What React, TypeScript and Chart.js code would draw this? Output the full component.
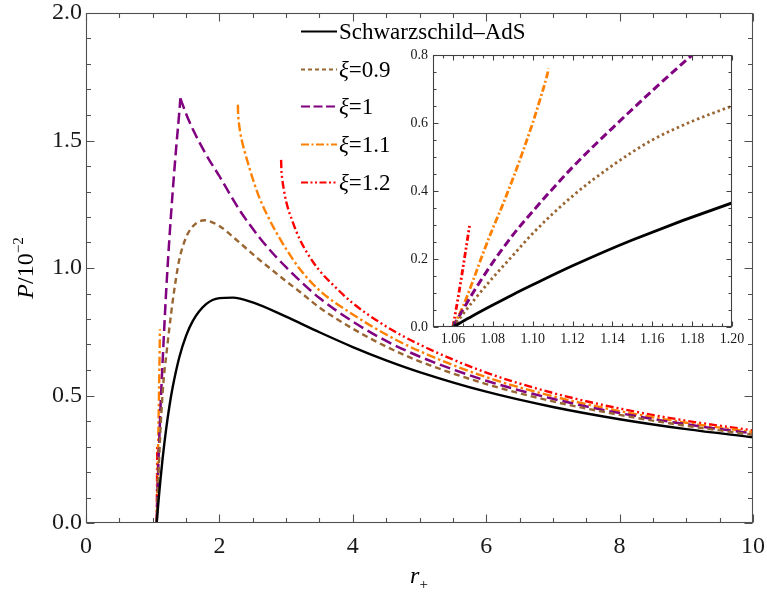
import React, { useEffect, useRef } from "react";
import { Chart, registerables } from "chart.js";

Chart.register(...registerables);

const SERIF = '"Liberation Serif", "Times New Roman", Times, serif';

// ---------- tick labels ----------
const mainXTicks = [0, 2, 4, 6, 8, 10];
const mainYTicks = [0, 0.5, 1.0, 1.5, 2.0];
const insetXTicks = [1.06, 1.08, 1.1, 1.12, 1.14, 1.16, 1.18, 1.2];
const insetYTicks = [0, 0.2, 0.4, 0.6, 0.8];

// ---------- legend ----------
const legendFirst = "Schwarzschild–AdS";
const xiValues = ["0.9", "1", "1.1", "1.2"];

// ---------- data (r_+, P / 10^-2) ----------
const rSAdS = [1.06, 1.07, 1.08, 1.09, 1.1, 1.12, 1.15, 1.2, 1.25, 1.3, 1.4, 1.5, 1.6, 1.8, 2.0, 2.2, 2.5, 3.0, 3.5, 4.0, 4.5, 5.0, 6.0, 7.0, 8.0, 9.0, 10.0];
const pSAdS = [0, 0.033, 0.0645, 0.095, 0.124, 0.18, 0.256, 0.365, 0.457, 0.533, 0.651, 0.734, 0.792, 0.858, 0.882, 0.884, 0.865, 0.809, 0.748, 0.69, 0.638, 0.592, 0.515, 0.455, 0.407, 0.368, 0.336];

const rXi09 = [1.06, 1.07, 1.08, 1.09, 1.1, 1.12, 1.14, 1.16, 1.18, 1.2, 1.25, 1.3, 1.35, 1.4, 1.5, 1.6, 1.7, 1.78, 1.9, 2.0, 2.3, 2.6, 2.8, 3.0, 3.2, 3.5, 4.0, 4.5, 5.0, 6.0, 7.0, 8.0, 9.0, 10.0];
const pXi09 = [0, 0.075, 0.145, 0.21, 0.275, 0.385, 0.475, 0.55, 0.605, 0.65, 0.765, 0.87, 0.96, 1.035, 1.12, 1.163, 1.183, 1.187, 1.178, 1.165, 1.1, 1.032, 0.99, 0.948, 0.908, 0.845, 0.762, 0.692, 0.634, 0.545, 0.477, 0.424, 0.381, 0.346];

const rXi10Low = [1.06, 1.07, 1.08, 1.09, 1.1, 1.12, 1.14, 1.16, 1.18, 1.2, 1.25, 1.3, 1.35, 1.4, 1.415];
const pXi10Low = [0, 0.1, 0.19, 0.27, 0.34, 0.47, 0.585, 0.695, 0.8, 0.9, 1.115, 1.3, 1.465, 1.615, 1.665];
const rXi10High = [1.415, 1.5, 1.6, 1.8, 2.0, 2.3, 2.6, 2.8, 3.0, 3.2, 3.5, 4.0, 4.5, 5.0, 6.0, 7.0, 8.0, 9.0, 10.0];
const pXi10High = [1.665, 1.605, 1.545, 1.445, 1.36, 1.228, 1.12, 1.058, 1.003, 0.952, 0.882, 0.79, 0.714, 0.653, 0.558, 0.487, 0.431, 0.387, 0.351];

const rXi11Low = [1.06, 1.065, 1.07, 1.075, 1.08, 1.085, 1.09, 1.095, 1.1, 1.104, 1.107, 1.108];
const pXi11Low = [0, 0.06, 0.135, 0.215, 0.29, 0.36, 0.435, 0.515, 0.6, 0.675, 0.735, 0.76];
const rXi11High = [2.277, 2.28, 2.29, 2.31, 2.35, 2.4, 2.5, 2.6, 2.75, 2.9, 3.0, 3.2, 3.5, 4.0, 4.5, 5.0, 6.0, 7.0, 8.0, 9.0, 10.0];
const pXi11High = [1.64, 1.61, 1.575, 1.535, 1.485, 1.437, 1.35, 1.275, 1.19, 1.118, 1.075, 0.998, 0.912, 0.818, 0.739, 0.674, 0.572, 0.497, 0.439, 0.393, 0.356];

const rXi12Low = [1.06, 1.063, 1.066, 1.0684];
const pXi12Low = [0, 0.1, 0.21, 0.3];
const rXi12High = [2.925, 2.93, 2.94, 2.96, 3.0, 3.1, 3.2, 3.35, 3.5, 3.7, 4.0, 4.5, 5.0, 6.0, 7.0, 8.0, 9.0, 10.0];
const pXi12High = [1.424, 1.384, 1.354, 1.317, 1.262, 1.18, 1.115, 1.045, 0.99, 0.935, 0.862, 0.771, 0.7, 0.59, 0.51, 0.449, 0.401, 0.363];

type Part = [number[], number[]];
interface Series {
  color: string;
  mainWidth: number;
  insetWidth: number;
  mainDash: number[];
  insetDash: number[];
  legendDash: number[];
  parts: Part[];
}

const series: Series[] = [
  { color: "#000000", mainWidth: 2.4, insetWidth: 2.8, mainDash: [], insetDash: [], legendDash: [], parts: [[rSAdS, pSAdS]] },
  { color: "#996633", mainWidth: 2.4, insetWidth: 2.8, mainDash: [6, 4], insetDash: [2.5, 3], legendDash: [4, 3], parts: [[rXi09, pXi09]] },
  { color: "#800080", mainWidth: 2.5, insetWidth: 3, mainDash: [11, 5], insetDash: [8, 4], legendDash: [9, 3.5], parts: [[rXi10Low, pXi10Low], [rXi10High, pXi10High]] },
  { color: "#ff8000", mainWidth: 2.4, insetWidth: 2.8, mainDash: [9, 3, 2.5, 3], insetDash: [7, 2.5, 2, 2.5], legendDash: [8, 2.5, 2, 2.5], parts: [[rXi11Low, pXi11Low], [rXi11High, pXi11High]] },
  { color: "#ff0000", mainWidth: 2.4, insetWidth: 2.8, mainDash: [8, 3, 2, 3, 2, 3], insetDash: [6, 2.5, 2, 2.5, 2, 2.5], legendDash: [7, 2.5, 2, 2.5, 2, 2.5], parts: [[rXi12Low, pXi12Low], [rXi12High, pXi12High]] },
];

function buildDatasets(inset: boolean) {
  const out: any[] = [];
  series.forEach((s) => {
    s.parts.forEach(([xs, ys]) => {
      out.push({
        data: xs.map((x, i) => ({ x, y: ys[i] })),
        borderColor: s.color,
        backgroundColor: s.color,
        borderWidth: inset ? s.insetWidth : s.mainWidth,
        borderDash: inset ? s.insetDash : s.mainDash,
        pointRadius: 0,
        fill: false,
        cubicInterpolationMode: "monotone",
        borderCapStyle: "butt",
      });
    });
  });
  return out;
}

function drawFrameTicks(
  chart: any,
  xMinStep: number,
  yMinStep: number,
  xMajors: number[],
  yMajors: number[],
  majorLen: number,
  minorLen: number,
  color: string
) {
  const { ctx, chartArea: a, scales } = chart;
  const xs = scales.x;
  const ys = scales.y;
  const L = Math.round(a.left) + 0.5;
  const R = Math.round(a.right) - 0.5;
  const T = Math.round(a.top) + 0.5;
  const B = Math.round(a.bottom) - 0.5;
  ctx.save();
  ctx.strokeStyle = color;
  ctx.lineWidth = 1.1;
  ctx.setLineDash([]);
  ctx.strokeRect(L, T, R - L, B - T);
  ctx.beginPath();
  const nx = Math.round((xs.max - xs.min) / xMinStep);
  for (let i = 0; i <= nx; i++) {
    const v = xs.min + i * xMinStep;
    const major = xMajors.some((m) => Math.abs(m - v) < 1e-7);
    const len = major ? majorLen : minorLen;
    const px = Math.round(xs.getPixelForValue(v)) + 0.5;
    ctx.moveTo(px, B);
    ctx.lineTo(px, B - len);
    ctx.moveTo(px, T);
    ctx.lineTo(px, T + len);
  }
  const ny = Math.round((ys.max - ys.min) / yMinStep);
  for (let i = 0; i <= ny; i++) {
    const v = ys.min + i * yMinStep;
    const major = yMajors.some((m) => Math.abs(m - v) < 1e-7);
    const len = major ? majorLen : minorLen;
    const py = Math.round(ys.getPixelForValue(v)) + 0.5;
    ctx.moveTo(L, py);
    ctx.lineTo(L + len, py);
    ctx.moveTo(R, py);
    ctx.lineTo(R - len, py);
  }
  ctx.stroke();
  ctx.restore();
}

type Piece = { t: string; font: string; dy?: number };
function drawPieces(ctx: CanvasRenderingContext2D, pieces: Piece[], x: number, baseline: number, center: boolean) {
  let total = 0;
  const widths = pieces.map((p) => {
    ctx.font = p.font;
    const w = ctx.measureText(p.t).width;
    total += w;
    return w;
  });
  let cx = center ? x - total / 2 : x;
  ctx.textAlign = "left";
  ctx.textBaseline = "alphabetic";
  pieces.forEach((p, i) => {
    ctx.font = p.font;
    ctx.fillText(p.t, cx, baseline + (p.dy || 0));
    cx += widths[i];
  });
}

const mainPlugin = {
  id: "mainDecor",
  afterDatasetsDraw(chart: any) {
    drawFrameTicks(chart, 0.5, 0.1, mainXTicks, mainYTicks, 8, 4.5, "#505050");
    const ctx: CanvasRenderingContext2D = chart.ctx;
    ctx.save();
    ctx.fillStyle = "#000";
    // legend
    const rowY = [31, 69, 106, 144, 182];
    series.forEach((s, i) => {
      const y = rowY[i] + 0.5;
      ctx.strokeStyle = s.color;
      ctx.lineWidth = 2.2;
      ctx.setLineDash(s.legendDash);
      ctx.beginPath();
      ctx.moveTo(301, y);
      ctx.lineTo(337, y);
      ctx.stroke();
      ctx.setLineDash([]);
      ctx.fillStyle = "#000";
      if (i === 0) {
        drawPieces(ctx, [{ t: legendFirst, font: `23px ${SERIF}` }], 339, rowY[i] + 8, false);
      } else {
        drawPieces(
          ctx,
          [
            { t: "ξ", font: `italic 23px ${SERIF}` },
            { t: "=" + xiValues[i - 1], font: `23px ${SERIF}` },
          ],
          339,
          rowY[i] + 8,
          false
        );
      }
    });
    // y title
    ctx.save();
    ctx.translate(25, 268);
    ctx.rotate(-Math.PI / 2);
    drawPieces(
      ctx,
      [
        { t: "P", font: `italic 24px ${SERIF}` },
        { t: "/10", font: `24px ${SERIF}` },
        { t: "−2", font: `15px ${SERIF}`, dy: -10 },
      ],
      0,
      8,
      true
    );
    ctx.restore();
    // x title
    drawPieces(
      ctx,
      [
        { t: "r", font: `italic 24px ${SERIF}` },
        { t: "+", font: `15px ${SERIF}`, dy: 6 },
      ],
      419,
      583,
      true
    );
    ctx.restore();
  },
};

const insetPlugin = {
  id: "insetDecor",
  beforeDraw(chart: any) {
    const { ctx, chartArea: a } = chart;
    ctx.save();
    ctx.fillStyle = "#ffffff";
    ctx.fillRect(a.left, a.top, a.right - a.left, a.bottom - a.top);
    ctx.restore();
  },
  afterDatasetsDraw(chart: any) {
    drawFrameTicks(chart, 0.005, 0.05, insetXTicks, insetYTicks, 5, 3, "#404040");
  },
};

function makeScale(min: number, max: number, ticks: number[], fmt: (v: number) => string, size: number, pad: number, fit: (s: any) => void) {
  return {
    type: "linear",
    min,
    max,
    afterBuildTicks: (s: any) => {
      s.ticks = ticks.map((value) => ({ value }));
    },
    afterFit: (s: any) => {
      fit(s);
      s.paddingLeft = 0;
      s.paddingRight = 0;
      s.paddingTop = 0;
      s.paddingBottom = 0;
    },
    grid: { display: false, drawTicks: false },
    border: { display: false },
    ticks: {
      color: "#1a1a1a",
      padding: pad,
      maxRotation: 0,
      autoSkip: false,
      font: { family: SERIF, size, lineHeight: 1 },
      callback: (v: any) => fmt(Number(v)),
    },
  };
}

export default function App() {
  const mainRef = useRef<HTMLCanvasElement>(null);
  const insetRef = useRef<HTMLCanvasElement>(null);

  useEffect(() => {
    const main = new Chart(mainRef.current as HTMLCanvasElement, {
      type: "line",
      data: { datasets: buildDatasets(false) },
      options: {
        responsive: false,
        animation: false,
        devicePixelRatio: 1,
        layout: { padding: { left: 0, top: 13, right: 14, bottom: 0 } },
        plugins: { legend: { display: false }, tooltip: { enabled: false } },
        scales: {
          x: makeScale(0, 10, mainXTicks, (v) => String(v), 24, 12, (s: any) => {
            s.height = 77;
          }),
          y: makeScale(0, 2, mainYTicks, (v) => v.toFixed(1), 24, 4, (s: any) => {
            s.width = 86;
          }),
        },
      } as any,
      plugins: [mainPlugin],
    });

    const inset = new Chart(insetRef.current as HTMLCanvasElement, {
      type: "line",
      data: { datasets: buildDatasets(true) },
      options: {
        responsive: false,
        animation: false,
        devicePixelRatio: 1,
        layout: { padding: { left: 0, top: 15, right: 18, bottom: 0 } },
        plugins: { legend: { display: false }, tooltip: { enabled: false } },
        scales: {
          x: makeScale(1.05, 1.2, insetXTicks, (v) => v.toFixed(2), 14, 5, (s: any) => {
            s.height = 25;
          }),
          y: makeScale(0, 0.8, insetYTicks, (v) => v.toFixed(1), 14, 5, (s: any) => {
            s.width = 43;
          }),
        },
      } as any,
      plugins: [insetPlugin],
    });

    return () => {
      main.destroy();
      inset.destroy();
    };
  }, []);

  return (
    <div style={{ position: "absolute", left: 0, top: 0, width: 767, height: 600, background: "#ffffff" }}>
      <canvas ref={mainRef} width={767} height={600} style={{ position: "absolute", left: 0, top: 0, display: "block" }} />
      <canvas ref={insetRef} width={360} height={312} style={{ position: "absolute", left: 390, top: 40, display: "block" }} />
    </div>
  );
}
